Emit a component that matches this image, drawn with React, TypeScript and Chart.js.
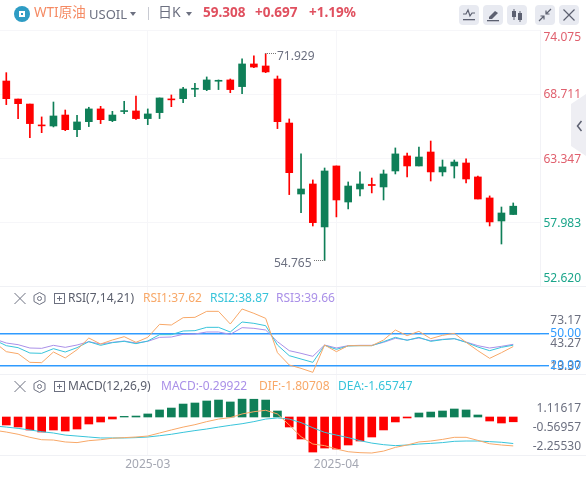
import React, { useEffect, useRef } from "react";
import { Chart, registerables } from "chart.js";

Chart.register(...registerables);

const FONT = '"Noto Sans","Noto Sans CJK SC",sans-serif';
const RED = "#ff0000";
const GREEN = "#0f7f58";
const ORANGE = "#f8a868";
const TEAL = "#38c4da";
const PURPLE = "#aa90e8";
const BLUE = "#2f9bff";
const GREY = "#6c7080";
const GRID = "#f6f6f9";

const opens = [69.80,68.29,67.87,66.12,66.03,66.95,65.72,66.39,67.46,66.48,67.24,67.29,66.65,67.15,68.30,68.32,69.11,69.08,69.78,69.89,69.33,71.23,71.06,69.97,66.28,60.33,61.17,57.57,62.68,59.66,60.75,61.13,60.92,62.26,63.52,62.68,63.85,62.18,62.68,62.93,61.76,60.00,58.07,58.61];
const highs = [70.50,68.29,67.87,66.79,68.04,67.37,66.92,67.60,67.68,67.26,68.10,68.54,67.46,68.38,68.63,69.27,69.61,70.14,69.89,69.97,71.65,71.90,72.10,70.22,66.62,63.69,61.51,62.51,62.68,61.34,62.18,61.67,62.34,64.19,63.77,64.27,64.77,63.18,63.18,63.27,61.84,60.17,59.24,59.58];
const lows = [67.82,66.65,65.05,65.47,65.95,65.64,65.14,65.98,66.23,66.39,67.06,66.59,66.14,66.65,67.65,67.99,68.49,68.99,69.08,68.82,68.74,70.92,70.50,65.81,60.28,58.77,57.65,54.765,58.41,59.08,60.17,60.42,59.83,62.01,61.76,62.68,61.42,61.84,61.67,61.26,59.91,57.65,56.14,58.61];
const closes = [68.32,67.90,66.23,66.04,66.87,65.72,66.37,67.46,66.56,66.95,67.32,66.65,67.04,68.38,68.22,69.13,69.19,69.89,69.86,69.08,71.23,70.97,70.56,66.39,62.12,60.75,57.93,62.26,59.83,61.00,61.17,61.04,62.01,63.69,62.68,63.43,62.18,62.60,63.01,61.59,59.91,57.99,58.74,59.308];

// The first value of each indicator series belongs to the session just before the window.
const rsi1 = [41.53,32.78,30.9,22.78,22.47,32.47,26.9,34.65,45.59,39.97,43.72,46.84,41.53,46.22,58.4,57.78,64.65,64.97,70.59,70.59,58.72,72.78,68.72,64.03,31.84,20.28,17.15,13.41,39.03,32.78,38.41,38.41,38.41,43.72,53.09,47.78,51.84,44.97,48.09,49.97,41.53,33.72,26.53,31.84,37.62];
const rsi2 = [43.72,38.41,36.53,31.53,31.22,35.59,32.47,36.53,42.15,38.72,41.22,42.47,40.28,42.78,48.72,48.72,52.15,52.47,55.59,55.59,51.22,60.59,59.34,57.15,39.03,29.03,25.9,22.78,38.72,34.97,38.09,38.41,38.41,42.15,46.22,43.41,46.22,42.47,44.03,44.97,41.53,37.15,33.72,36.84,38.87];
const rsi3 = [44.66,40.9,39.34,36.22,35.9,38.72,36.84,39.03,42.15,39.97,41.53,42.78,40.9,42.47,46.22,46.53,49.03,49.34,51.22,51.22,49.03,55.28,54.65,53.09,42.15,33.72,31.22,28.41,39.03,36.22,38.41,38.72,38.72,41.53,45.28,43.72,45.59,43.09,44.34,44.97,41.84,38.41,36.22,37.78,39.66];

const macdHist = [-0.5,-0.625,-0.8125,-0.9375,-0.8125,-0.875,-0.75,-0.4375,-0.3125,-0.125,0.04,0.06,0.19,0.44,0.56,0.81,0.875,1.0,1.06,0.94,1.11617,1.11,1.06,0.375,-0.625,-1.375,-2.19,-1.94,-2.0,-1.75,-1.5,-1.25,-0.81,-0.31,-0.06,0.25,0.31,0.375,0.5,0.44,0.125,-0.25,-0.375,-0.29922];
const dif = [-0.83,-0.94,-1.08,-1.27,-1.42,-1.44,-1.56,-1.60,-1.48,-1.42,-1.33,-1.29,-1.25,-1.19,-1.0,-0.81,-0.63,-0.48,-0.29,-0.13,-0.04,0.19,0.33,0.42,0.19,-0.5,-1.23,-1.69,-1.79,-2.0,-2.17,-2.23,-2.25,-2.13,-1.90,-1.75,-1.56,-1.50,-1.40,-1.27,-1.27,-1.46,-1.67,-1.75,-1.80708];
const dea = [-0.56,-0.63,-0.71,-0.81,-0.92,-1.0,-1.13,-1.19,-1.25,-1.31,-1.31,-1.31,-1.29,-1.25,-1.17,-1.08,-0.96,-0.85,-0.75,-0.63,-0.52,-0.42,-0.29,-0.13,-0.06,-0.13,-0.35,-0.67,-0.96,-1.13,-1.29,-1.48,-1.63,-1.73,-1.79,-1.75,-1.69,-1.65,-1.60,-1.52,-1.50,-1.50,-1.54,-1.58,-1.65747];

const priceTicks = [52.62, 57.983, 63.347, 68.711, 74.075];
const priceColors = ["#1aa58a", "#1aa58a", "#e0606e", "#e0606e", "#e0606e"];
const rsiTicks = [13.37, 20, 43.27, 50, 73.17];
const macdTicks = [-2.2553, -0.56957, 1.11617];
const monthIndex = [12, 28];
const monthLabels = ["2025-03", "2025-04"];

const xMin = -0.534;
const xMax = 45.27;
const W = 586;

type Shift = Record<string, number>;

function placeLabels(shift: Shift) {
  return {
    id: "placeLabels",
    beforeDraw(chart: any) {
      const s = chart.scales.y;
      s._computeLabelArea = () => undefined;
      const items = s.getLabelItems();
      items.forEach((it: any) => {
        const lab = String(it.label);
        const t = s.ticks.find((k: any) => k.label === lab);
        it.options.translation[0] = 581;
        it.options.translation[1] = s.getPixelForValue(t.value) + (shift[lab] || 0);
        it.options.textAlign = "right";
        it.options.textBaseline = "middle";
      });
    },
  };
}

function xScale(display: boolean) {
  return {
    type: "linear",
    min: xMin,
    max: xMax,
    offset: false,
    afterBuildTicks(s: any) {
      s.ticks = monthIndex.map((v) => ({ value: v }));
    },
    afterFit(s: any) {
      s.height = display ? 22 : 0;
      s.paddingLeft = 0;
      s.paddingRight = 0;
    },
    grid: { color: GRID, drawTicks: false, offset: false },
    border: { display: false },
    ticks: {
      display,
      autoSkip: false,
      maxRotation: 0,
      padding: 2,
      color: "#a4a7b2",
      font: { family: FONT, size: 12 },
      callback: (v: number) => monthLabels[monthIndex.indexOf(v)],
    },
  };
}

function yScale(min: number, max: number, ticks: number[], digits: number, extra: any) {
  return {
    position: "right",
    min,
    max,
    afterBuildTicks(s: any) {
      s.ticks = ticks.map((v) => ({ value: v }));
    },
    afterFit(s: any) {
      s.width = W - 540;
      s.paddingTop = 0;
      s.paddingBottom = 0;
    },
    ...extra,
    ticks: {
      autoSkip: false,
      padding: 0,
      font: { family: FONT, size: 12 },
      callback: (v: number) => v.toFixed(digits),
      ...extra.ticks,
    },
  };
}

const baseOptions = {
  responsive: false,
  animation: false as const,
  events: [] as string[],
  plugins: { legend: { display: false }, tooltip: { enabled: false } },
};

function mainConfig() {
  const idx = opens.map((_, i) => i);
  return {
    type: "bar",
    data: {
      datasets: [
        {
          label: "body",
          grouped: false,
          barThickness: 7,
          order: 0,
          data: idx.map((i) => ({ x: i, y: [opens[i], closes[i]] })),
          backgroundColor: idx.map((i) => (closes[i] >= opens[i] ? GREEN : RED)),
        },
        {
          label: "wick",
          grouped: false,
          barThickness: 1,
          order: 1,
          data: idx.map((i) => ({ x: i, y: [lows[i], highs[i]] })),
          backgroundColor: idx.map((i) => (closes[i] >= opens[i] ? GREEN : RED)),
        },
      ],
    },
    options: {
      ...baseOptions,
      layout: { autoPadding: false, padding: { top: 30, bottom: 1, left: 0, right: 0 } },
      scales: {
        x: xScale(false),
        y: yScale(52.62, 74.075, priceTicks, 3, {
          grid: { color: GRID, drawTicks: false },
          border: { display: true, color: "#f2f2f6" },
          ticks: {
            color: (c: any) => priceColors[priceTicks.indexOf(c.tick.value)],
          },
        }),
      },
    },
    plugins: [placeLabels({ "74.075": 7.5, "52.620": -7.5, "68.711": 1, "63.347": 1.5, "57.983": 2 })],
  };
}

function rsiConfig() {
  const line = (vals: number[], color: string) => ({
    type: "line",
    data: vals.map((y, i) => ({ x: i - 1, y })),
    borderColor: color,
    borderWidth: 1,
    pointRadius: 0,
    tension: 0,
    fill: false,
  });
  const isBlue = (v: number) => v === 50 || v === 20;
  return {
    type: "line",
    data: { datasets: [line(rsi1, ORANGE), line(rsi2, TEAL), line(rsi3, PURPLE)] },
    options: {
      ...baseOptions,
      layout: { autoPadding: false, padding: { top: 0, bottom: 0, left: 0, right: 0 } },
      scales: {
        x: xScale(false),
        y: yScale(11.85, 93.4, rsiTicks, 2, {
          grid: {
            color: (c: any) => (isBlue(c.tick.value) ? BLUE : "rgba(0,0,0,0)"),
            tickColor: (c: any) => (isBlue(c.tick.value) ? BLUE : "rgba(0,0,0,0)"),
            lineWidth: 1.4,
            tickWidth: 1.4,
            drawTicks: true,
            tickLength: 9,
          },
          border: { display: false },
          ticks: {
            color: (c: any) => (isBlue(c.tick.value) ? BLUE : GREY),
          },
        }),
      },
    },
    plugins: [placeLabels({ "73.17": 11.5, "43.27": 3.5, "13.37": -6, "50.00": 0.5, "20.00": 0.5 })],
  };
}

function macdConfig() {
  const line = (vals: number[], color: string) => ({
    type: "line",
    order: 0,
    data: vals.map((y, i) => ({ x: i - 1, y })),
    borderColor: color,
    borderWidth: 1,
    pointRadius: 0,
    tension: 0,
    fill: false,
  });
  return {
    type: "bar",
    data: {
      datasets: [
        {
          type: "bar",
          order: 1,
          barThickness: 8,
          data: macdHist.map((y, i) => ({ x: i, y })),
          backgroundColor: macdHist.map((v) => (v >= 0 ? GREEN : RED)),
        },
        line(dif, ORANGE),
        line(dea, TEAL),
      ],
    },
    options: {
      ...baseOptions,
      layout: { autoPadding: false, padding: { top: 0, bottom: 0, left: 0, right: 0 } },
      scales: {
        x: xScale(true),
        y: yScale(-2.375, 2.625, macdTicks, 5, {
          grid: { display: false, drawTicks: false },
          border: { display: false },
          ticks: { color: GREY },
        }),
      },
    },
    plugins: [placeLabels({ "1.11617": 9, "-0.56957": 1, "-2.25530": -6.5 })],
  };
}

const Pane: React.FC<{ top: number; height: number; make: () => any }> = ({ top, height, make }) => {
  const ref = useRef<HTMLCanvasElement>(null);
  useEffect(() => {
    const c = new Chart(ref.current as HTMLCanvasElement, make());
    return () => c.destroy();
  }, []);
  return (
    <canvas
      ref={ref}
      width={W}
      height={height}
      style={{ position: "absolute", left: 0, top, width: W, height }}
    />
  );
};

const T: React.FC<{ x: number; y: number; c: string; s?: number; b?: boolean; children: React.ReactNode }> = ({
  x, y, c, s = 12, b, children,
}) => (
  <span
    style={{
      position: "absolute", left: x, top: y, color: c, fontSize: s, fontWeight: b ? 700 : 400,
      lineHeight: "16px", whiteSpace: "nowrap", fontFamily: FONT,
    }}
  >
    {children}
  </span>
);

const Tri: React.FC<{ x: number; y: number }> = ({ x, y }) => (
  <div
    style={{
      position: "absolute", left: x, top: y, width: 0, height: 0,
      borderLeft: "3.5px solid transparent", borderRight: "3.5px solid transparent",
      borderTop: "4px solid #6c7080",
    }}
  />
);

const Btn: React.FC<{ x: number; children: React.ReactNode }> = ({ x, children }) => (
  <div style={{ position: "absolute", left: x, top: 5, width: 20, height: 20, borderRadius: 4, background: "#e8eaf1" }}>
    <svg width="20" height="20" viewBox="0 0 20 20" style={{ display: "block" }}>{children}</svg>
  </div>
);

const PaneIcons: React.FC<{ y: number }> = ({ y }) => (
  <svg width="70" height="16" style={{ position: "absolute", left: 10, top: y }} fill="none" stroke="#6c7080" strokeWidth="1">
    <path d="M4.5 2 L15.5 13 M15.5 2 L4.5 13" />
    <path d="M29.5 1.5 L35 4.5 V10.5 L29.5 13.5 L24 10.5 V4.5 Z" />
    <circle cx="29.5" cy="7.5" r="2" />
    <rect x="44.5" y="2.5" width="10" height="10" />
    <path d="M47 7.5 H52 M49.5 5 V10" />
  </svg>
);

export default function App() {
  return (
    <div style={{ position: "absolute", left: 0, top: 0, width: W, height: 477, overflow: "hidden", background: "#fff", fontFamily: FONT }}>
      <Pane top={0} height={287} make={mainConfig} />
      <Pane top={287} height={87} make={rsiConfig} />
      <Pane top={375} height={102} make={macdConfig} />

      {/* header */}
      <svg width="18" height="18" style={{ position: "absolute", left: 13, top: 5 }}>
        <circle cx="9" cy="9" r="8" fill="#2e9cc4" />
        <rect x="6" y="6" width="6" height="6" fill="#fff" />
        <rect x="8" y="8" width="2" height="2" fill="#2e9cc4" />
      </svg>
      <T x={34} y={4} c="#f58a63" s={13.5}>WTI原油</T>
      <T x={89} y={6} c={GREY} s={13}>USOIL</T>
      <Tri x={130} y={12} />
      <div style={{ position: "absolute", left: 148, top: 7, width: 1, height: 13, background: "#c8cad2" }} />
      <T x={158} y={4} c={GREY} s={14}>日K</T>
      <Tri x={186} y={12} />
      <T x={203} y={4} c="#e0505f" s={13.5} b>59.308</T>
      <T x={255} y={4} c="#e0505f" s={13.5} b>+0.697</T>
      <T x={309} y={4} c="#e0505f" s={13.5} b>+1.19%</T>

      <Btn x={459}>
        <path d="M4 9 L7 9 L9 5 L11 11 L13 8 L16 8" fill="none" stroke="#5c6070" strokeWidth="1.2" />
        <rect x="4" y="14" width="12" height="1.3" fill="#5c6070" />
      </Btn>
      <Btn x={483}>
        <path d="M6 12 L12 6 L15 8 L9 14 H6 Z" fill="#5c6070" />
        <rect x="4" y="15" width="12" height="1.3" fill="#5c6070" />
      </Btn>
      <Btn x={507}>
        <path d="M7 4 V15 M13 6 V17" stroke="#5c6070" strokeWidth="1" />
        <rect x="5" y="6" width="4" height="6" fill="#5c6070" />
        <rect x="11" y="8" width="4" height="7" fill="#5c6070" />
      </Btn>
      <Btn x={535}>
        <path d="M16 4 L11 9 M11 5.5 V9 H14.5 M4 16 L9 11 M5.5 11 H9 V14.5" fill="none" stroke="#5c6070" strokeWidth="1.2" />
      </Btn>
      <Btn x={559}>
        <path d="M4.5 4.5 L15.5 15.5 M15.5 4.5 L4.5 15.5" stroke="#5c6070" strokeWidth="1.2" />
      </Btn>

      {/* side tab */}
      <svg width="15" height="62" style={{ position: "absolute", left: 571, top: 94 }}>
        <path d="M0 10 L15 0 V62 L0 52 Z" fill="#eeeef3" />
        <path d="M10.5 27 L6.5 32 L10.5 37" fill="none" stroke="#5c6070" strokeWidth="1.5" />
      </svg>

      {/* extreme markers */}
      <div style={{ position: "absolute", left: 265, top: 53, width: 11, borderTop: "1px dotted #777" }} />
      <T x={277} y={48} c={GREY}>71.929</T>
      <T x={274} y={255} c={GREY}>54.765</T>
      <div style={{ position: "absolute", left: 314, top: 260, width: 11, borderTop: "1px dotted #777" }} />

      {/* separators */}
      <div style={{ position: "absolute", left: 0, top: 286, width: W, height: 1, background: "#f0f1f5" }} />
      <div style={{ position: "absolute", left: 0, top: 374, width: W, height: 1, background: "#f0f1f5" }} />
      <div style={{ position: "absolute", left: 0, top: 455, width: W, height: 1, background: "#f0f1f5" }} />

      {/* RSI header */}
      <PaneIcons y={291} />
      <T x={68} y={290} c="#5a5e6c">RSI(7,14,21)</T>
      <T x={143} y={290} c={ORANGE}>RSI1:37.62</T>
      <T x={210} y={290} c={TEAL}>RSI2:38.87</T>
      <T x={276} y={290} c={PURPLE}>RSI3:39.66</T>

      {/* MACD header */}
      <PaneIcons y={379} />
      <T x={68} y={378} c="#5a5e6c">MACD(12,26,9)</T>
      <T x={161} y={378} c={PURPLE}>MACD:-0.29922</T>
      <T x={259} y={378} c={ORANGE}>DIF:-1.80708</T>
      <T x={338} y={378} c={TEAL}>DEA:-1.65747</T>
    </div>
  );
}
